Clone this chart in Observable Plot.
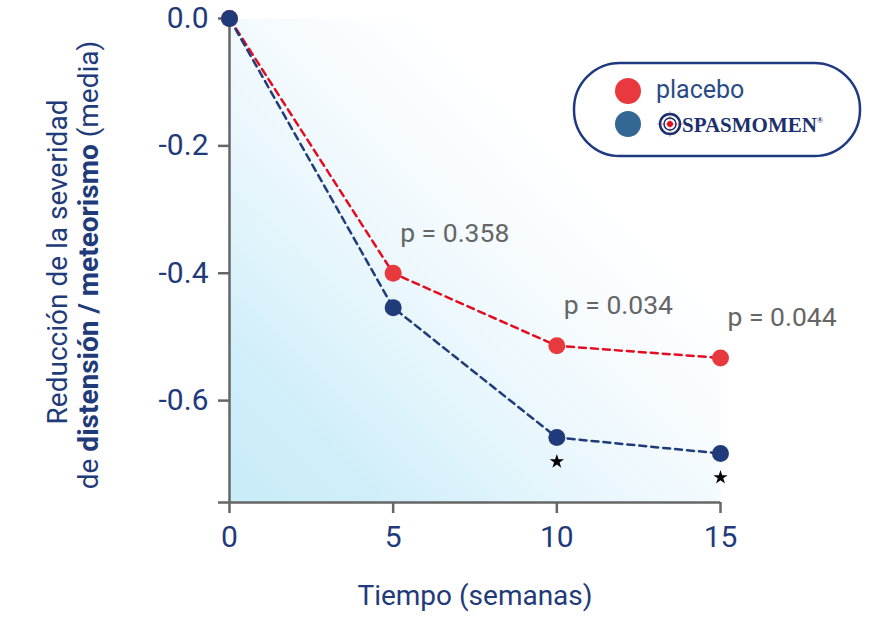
<!DOCTYPE html>
<html><head><meta charset="utf-8">
<script src="https://cdn.jsdelivr.net/npm/d3@7"></script>
<script src="https://cdn.jsdelivr.net/npm/@observablehq/plot@0.6"></script>
<style>
body{margin:0;background:#fff}
#chart{width:893px;height:625px;position:relative}
</style>
</head><body><div id="chart"></div>
<script>
const weeks = [0, 5, 10, 15];
const placebo = [0, -0.400, -0.514, -0.533];
const spasmomen = [0, -0.454, -0.658, -0.683];
const pWeeks = [5, 10, 15];
const pLabels = ["p = 0.358", "p = 0.034", "p = 0.044"];
const starWeeks = [10, 15];
const xTicks = [0, 5, 10, 15];
const yTicks = [0, -0.2, -0.4, -0.6];
const yMin = -0.76;
const seriesNames = ["placebo", "SPASMOMEN"];

const NAVY = "#1f3b7a";
const RED_LINE = "#e30d1f";
const RED_DOT = "#e8393e";
const AXIS = "#666666";

const placeboRows = weeks.map((w, i) => ({week: w, value: placebo[i]}));
const spasRows = weeks.map((w, i) => ({week: w, value: spasmomen[i]}));
const pRows = pWeeks.map((w, i) => ({week: w, value: placebo[weeks.indexOf(w)], label: pLabels[i]}));
const starRows = starWeeks.map(w => ({week: w, value: spasmomen[weeks.indexOf(w)]}));

const plot = Plot.plot({
  width: 893,
  height: 625,
  marginLeft: 229,
  marginRight: 173,
  marginTop: 18,
  marginBottom: 123,
  style: {fontFamily: "Roboto, sans-serif", background: "white", overflow: "visible"},
  x: {domain: [0, 15]},
  y: {domain: [yMin, 0]},
  marks: [
    Plot.frame({fill: "url(#bgGrad)", stroke: "none"}),
    Plot.ruleX([0], {y1: yMin, y2: 0, stroke: AXIS, strokeWidth: 2.5}),
    Plot.ruleY([yMin], {x1: 0, x2: 15, stroke: AXIS, strokeWidth: 2.5}),
    Plot.axisY([...yTicks, yMin], {
      tickSize: 11, tickPadding: 10, stroke: AXIS, strokeWidth: 2.5,
      fill: NAVY, fontSize: 30, label: null,
      tickFormat: d => d === yMin ? "" : d.toFixed(1)
    }),
    Plot.axisX(xTicks, {
      tickSize: 11, tickPadding: 12, stroke: AXIS, strokeWidth: 2.5,
      fill: NAVY, fontSize: 30, label: null, tickFormat: d => String(d)
    }),
    Plot.line(placeboRows, {x: "week", y: "value", stroke: RED_LINE, strokeWidth: 2.5, strokeDasharray: "7,5"}),
    Plot.line(spasRows, {x: "week", y: "value", stroke: NAVY, strokeWidth: 2.5, strokeDasharray: "7,5"}),
    Plot.dot(placeboRows, {x: "week", y: "value", r: 8.5, fill: RED_DOT}),
    Plot.dot(spasRows, {x: "week", y: "value", r: 8.5, fill: NAVY}),
    Plot.text(pRows, {x: "week", y: "value", text: "label", dx: 7, dy: -40, textAnchor: "start", fontSize: 26.5, fill: "#666666"}),
    Plot.dot(starRows, {x: "week", y: "value", dy: 24, symbol: "star", r: 4.5, fill: "#000"})
  ]
});

const svg = d3.select(plot);
const defs = svg.insert("defs", ":first-child");
const g = defs.append("linearGradient").attr("id", "bgGrad")
  .attr("x1", "0").attr("y1", "1").attr("x2", "1").attr("y2", "0");
[[0, "#c8ecf8"], [0.15, "#cfeef9"], [0.35, "#e6f6fc"], [0.5, "#f3fafe"], [0.7, "#ffffff"]].forEach(([o, c]) =>
  g.append("stop").attr("offset", o).attr("stop-color", c));

// Y axis title (two lines, partly bold)
const yt = svg.append("g").attr("font-family", "Roboto, sans-serif").attr("font-size", 28).attr("fill", NAVY);
yt.append("text").attr("transform", "translate(60,262) rotate(-90)")
  .attr("text-anchor", "middle").attr("dominant-baseline", "middle")
  .text("Reducción de la severidad");
const t2 = yt.append("text").attr("transform", "translate(91,265) rotate(-90)")
  .attr("text-anchor", "middle").attr("dominant-baseline", "middle");
t2.append("tspan").text("de ");
t2.append("tspan").attr("font-weight", "bold").text("distensión / meteorismo");
t2.append("tspan").text(" (media)");

// X axis title
svg.append("text").attr("x", 475).attr("y", 598)
  .attr("text-anchor", "middle").attr("dominant-baseline", "middle")
  .attr("font-family", "Roboto, sans-serif").attr("font-size", 28).attr("fill", NAVY)
  .text("Tiempo (semanas)");

// Legend
const lg = svg.append("g").attr("text-anchor", "start");
lg.append("rect").attr("x", 574).attr("y", 63).attr("width", 286).attr("height", 93)
  .attr("rx", 46).attr("ry", 46).attr("fill", "white").attr("stroke", "#1f3a80").attr("stroke-width", 2.5);
lg.append("circle").attr("cx", 628).attr("cy", 91).attr("r", 13).attr("fill", RED_DOT);
lg.append("circle").attr("cx", 628).attr("cy", 124).attr("r", 13).attr("fill", "#336894");
lg.append("text").attr("x", 656).attr("y", 91).attr("dominant-baseline", "middle")
  .attr("text-anchor", "start")
  .attr("font-family", "Roboto, sans-serif").attr("font-size", 25).attr("fill", "#2a4c86")
  .text(seriesNames[0]);
// emblem
const em = lg.append("g").attr("transform", "translate(670,124)");
em.append("line").attr("x1", -13).attr("x2", 13).attr("y1", 0).attr("y2", 0).attr("stroke", "#f3a0a6").attr("stroke-width", 1);
em.append("line").attr("x1", 0).attr("x2", 0).attr("y1", -13).attr("y2", 13).attr("stroke", "#f3a0a6").attr("stroke-width", 1);
em.append("circle").attr("r", 10).attr("fill", "none").attr("stroke", "#1c2f6e").attr("stroke-width", 2.5);
em.append("circle").attr("r", 6).attr("fill", "none").attr("stroke", "#1c2f6e").attr("stroke-width", 1.5);
em.append("circle").attr("r", 3).attr("fill", "#e30d1f");
const st = lg.append("text").attr("x", 682).attr("y", 132).attr("text-anchor", "start")
  .attr("font-family", "'Liberation Serif', serif").attr("font-weight", "bold")
  .attr("font-size", 21).attr("fill", "#1c2f6e");
st.append("tspan").text(seriesNames[1]);
st.append("tspan").attr("font-size", 8).attr("dy", -9).text("®");

document.getElementById("chart").appendChild(plot);
</script>
</body></html>
